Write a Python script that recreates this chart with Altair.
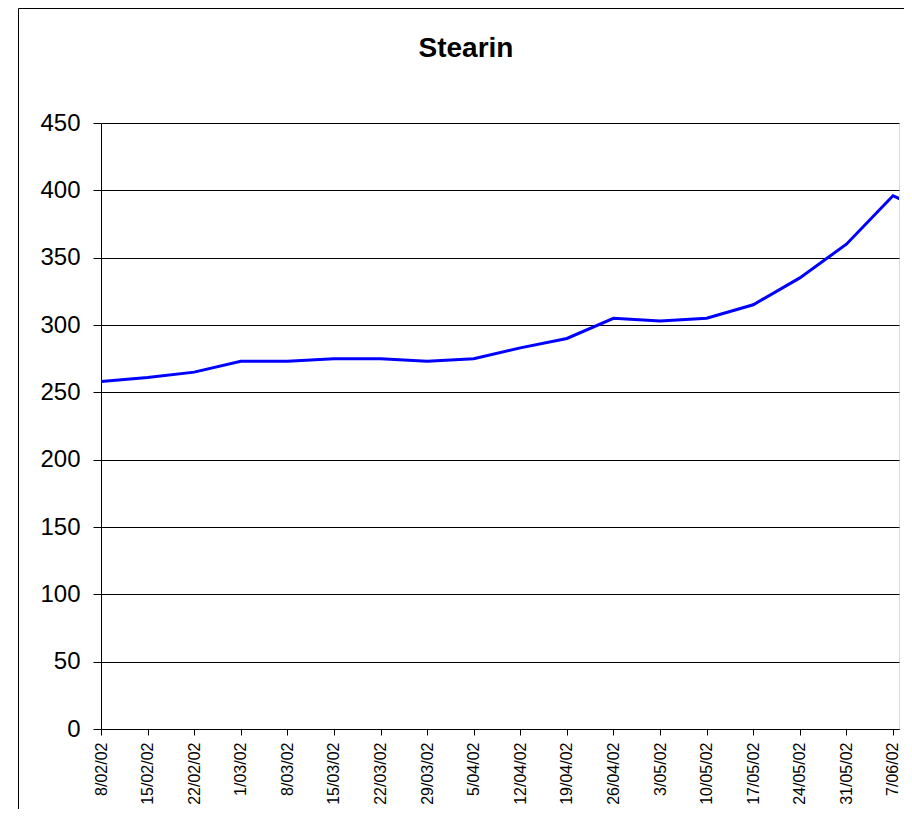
import altair as alt
import pandas as pd

# Weekly dates (ISO) and Stearin values
dates = ["2002-02-08", "2002-02-15", "2002-02-22", "2002-03-01", "2002-03-08",
         "2002-03-15", "2002-03-22", "2002-03-29", "2002-04-05", "2002-04-12",
         "2002-04-19", "2002-04-26", "2002-05-03", "2002-05-10", "2002-05-17",
         "2002-05-24", "2002-05-31", "2002-06-07", "2002-06-14"]
values = [258, 261, 265, 273, 273, 275, 275, 273, 275, 283,
          290, 305, 303, 305, 315, 335, 360, 396, 380]
tick_dates = dates[:18]
y_ticks = [0, 50, 100, 150, 200, 250, 300, 350, 400, 450]
title_text = ["Stearin"]

df = pd.DataFrame({"date": dates, "value": values})

FONT = "Liberation Sans"


def utc_dt(s, hours=0, minutes=0):
    y, m, d = (int(p) for p in s.split("-"))
    return alt.DateTime(year=y, month=m, date=d, hours=hours, minutes=minutes, utc=True)


x_scale = alt.Scale(type="utc",
                    domain=[utc_dt(dates[0]), utc_dt("2002-06-07", hours=21, minutes=40)])

line = alt.Chart(df).mark_line(color="#0000FF", strokeWidth=3, clip=True).encode(
    x=alt.X("date:T", scale=x_scale,
            axis=alt.Axis(values=[utc_dt(d) for d in tick_dates],
                          labelExpr="utcFormat(datum.value, '%-d/%m/%y')",
                          labelAngle=-90, labelFontSize=16, labelFont=FONT,
                          labelColor="black", tickSize=6, labelPadding=7,
                          grid=False, title=None, labelOverlap=False,
                          domainColor="black", tickColor="black")),
    y=alt.Y("value:Q", scale=alt.Scale(domain=[0, 450], nice=False),
            axis=alt.Axis(values=y_ticks, labelFontSize=24, labelFont=FONT,
                          labelColor="black", tickSize=8, labelPadding=13,
                          grid=True, gridColor="black", gridWidth=1,
                          title=None, domainColor="black", tickColor="black")),
)

one = pd.DataFrame({"title": title_text})
title = alt.Chart(one).mark_text(font=FONT, fontSize=28, fontWeight="bold",
                                 color="black", align="center",
                                 baseline="alphabetic").encode(
    text="title:N", x=alt.value(365), y=alt.value(-66))
frame_top = alt.Chart(one).mark_rule(color="black", strokeWidth=1).encode(
    x=alt.value(-82.5), x2=alt.value(820), y=alt.value(-114.5))
frame_left = alt.Chart(one).mark_rule(color="black", strokeWidth=1).encode(
    x=alt.value(-82.5), y=alt.value(-114.5), y2=alt.value(686))

chart = alt.layer(line, title, frame_top, frame_left).properties(
    width=798, height=606,
    autosize=alt.AutoSizeParams(type="none"),
    padding={"left": 93, "top": 115, "right": 5, "bottom": 80},
).configure_view(stroke="#808080", strokeWidth=1).configure(background="white")

chart.save("out.html", embed_options={"renderer": "svg", "actions": False})
